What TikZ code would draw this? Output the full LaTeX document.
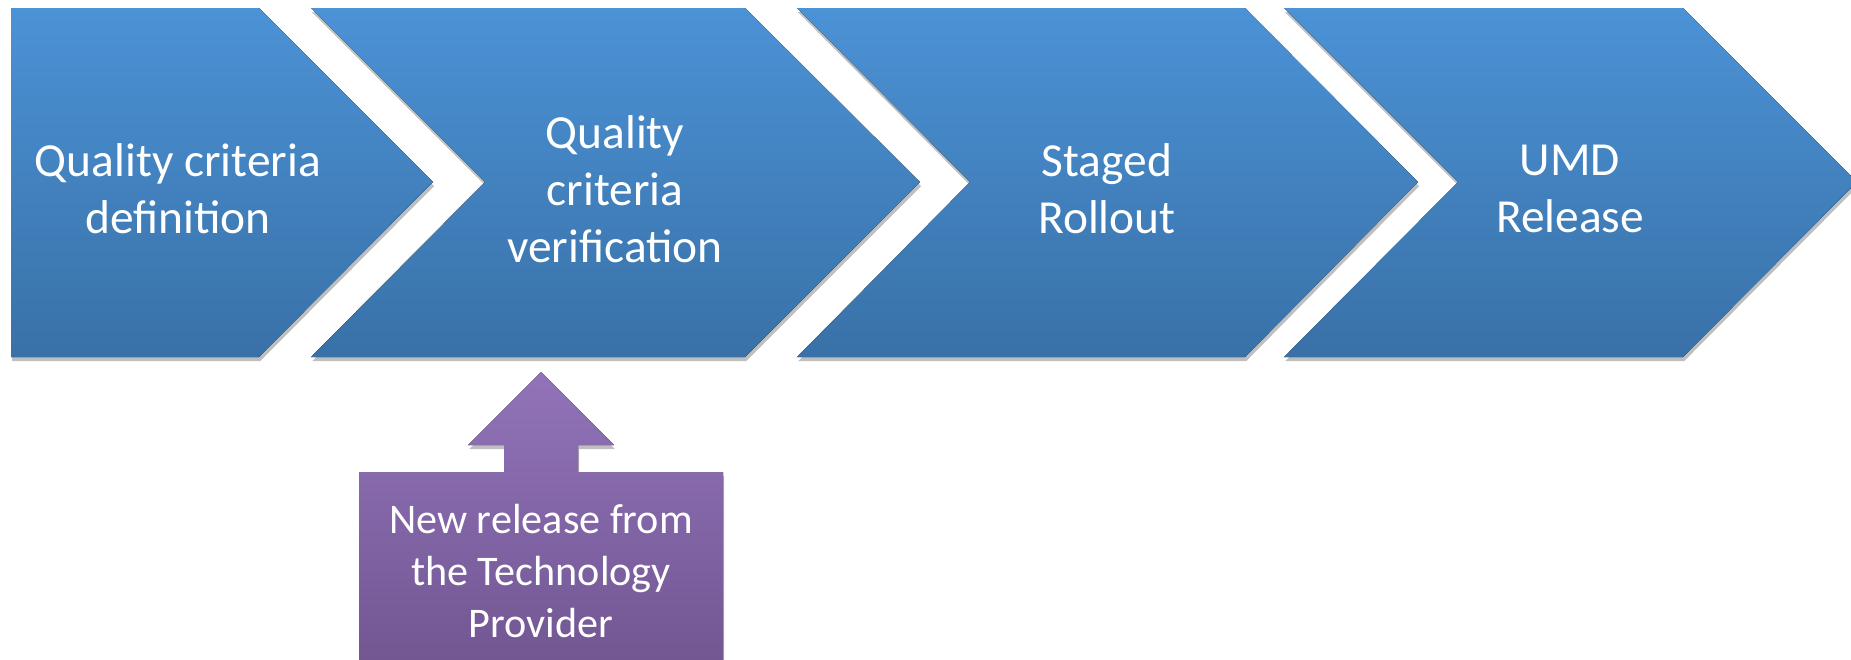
\documentclass[tikz,border=0pt]{standalone}
\usepackage{fontspec}
\setmainfont{Carlito}
\usetikzlibrary{shadows}

\definecolor{stageTop}{RGB}{75,146,214}
\definecolor{stageBottom}{RGB}{57,113,167}
\definecolor{inputTop}{RGB}{146,115,186}
\definecolor{inputBottom}{RGB}{110,83,141}

\begin{document}
\begin{tikzpicture}[x = 0.02cm, y = -0.02cm,
    chevron/.style = {top color = stageTop, bottom color = stageBottom,
        drop shadow = {shadow xshift = 0.6pt, shadow yshift = -2.4pt,
            opacity = 0.25, fill = black}},
    inputshape/.style = {top color = inputTop, bottom color = inputBottom,
        drop shadow = {shadow xshift = 0.6pt, shadow yshift = -2.4pt,
            opacity = 0.25, fill = black}},
    stagetext/.style = {text = white, align = center,
        font = \fontsize{27pt}{32.5pt}\selectfont},
    inputtext/.style = {text = white, align = center,
        font = \fontsize{24pt}{29.5pt}\selectfont}]

    \useasboundingbox (0, 0) rectangle (1851, 659);
    \clip (0, 0) rectangle (1851, 659);

    % The four stages of the process.
    \fill[chevron] (11, 8) -- (259, 8) -- (433, 182) -- (259, 357)
        -- (11, 357) -- cycle;
    \fill[chevron] (311, 8) -- (745, 8) -- (920, 182) -- (745, 357)
        -- (311, 357) -- (485, 182) -- cycle;
    \fill[chevron] (797, 8) -- (1245, 8) -- (1418, 182) -- (1245, 357)
        -- (797, 357) -- (970, 182) -- cycle;
    \fill[chevron] (1284, 8) -- (1683, 8) -- (1857, 182) -- (1683, 357)
        -- (1284, 357) -- (1458, 182) -- cycle;

    % The input arrow pointing up into the verification stage.
    \fill[inputshape] (359, 472) -- (504, 472) -- (504, 445) -- (468, 445)
        -- (541, 372) -- (614, 445) -- (578, 445) -- (578, 472)
        -- (723, 472) -- (723, 700) -- (359, 700) -- cycle;

    % Label everything.
    \node[stagetext] (definition) at (178, 189) {Quality criteria\\definition};
    \node[stagetext] (verification) at (615, 189) {Quality\\criteria\\verification};
    \node[stagetext] (rollout) at (1107, 189) {Staged\\Rollout};
    \node[stagetext] (release) at (1570, 189) {UMD\\Release};
    \node[inputtext] (provider) at (541, 571) {New release from\\the Technology\\Provider};
\end{tikzpicture}
\end{document}
